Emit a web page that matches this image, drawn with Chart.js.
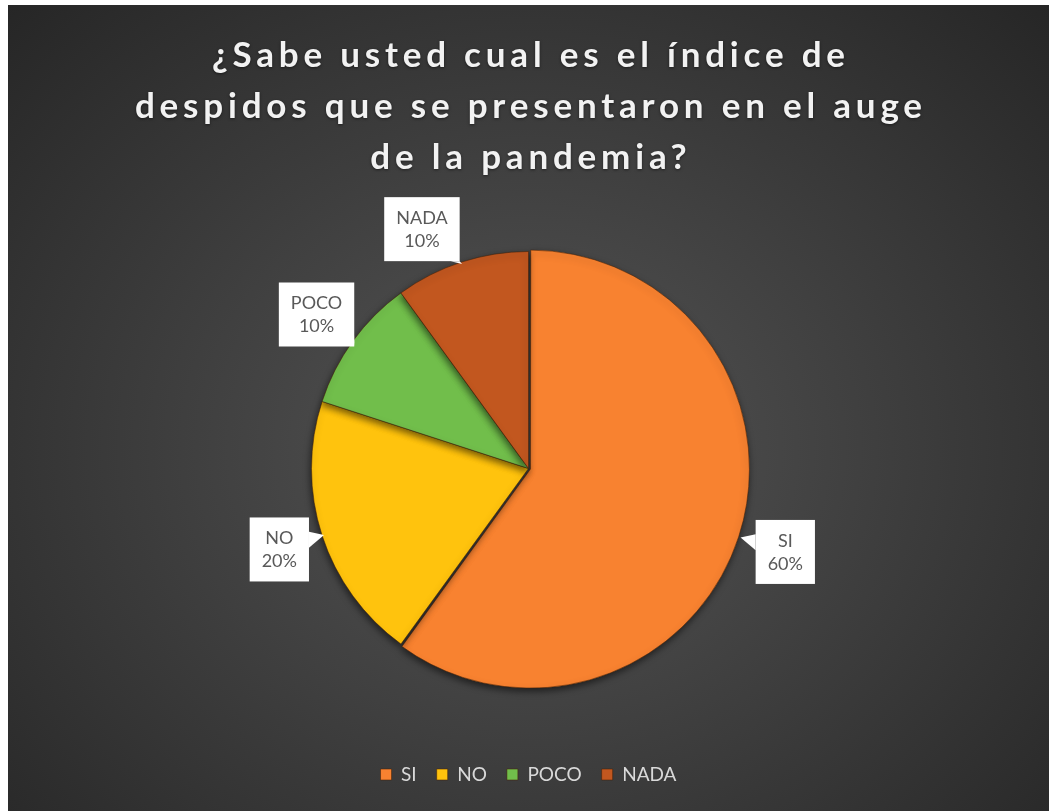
<!DOCTYPE html>
<html>
<head>
<meta charset="utf-8">
<script src="https://cdn.jsdelivr.net/npm/chart.js@4.4.0/dist/chart.umd.min.js"></script>
<style>
  html, body { margin: 0; padding: 0; background: #ffffff; }
  #wrap {
    position: absolute; left: 8px; top: 5px; width: 1041px; height: 806px;
    background: radial-gradient(ellipse at 50% 55%, #555555 0%, #404040 45%, #262626 100%);
  }
</style>
</head>
<body>
<div id="wrap"><canvas id="pie" width="1041" height="806"></canvas></div>
<script>
const categories = ["SI", "NO", "POCO", "NADA"];
const percentages = [60, 20, 10, 10];
const sliceColors = ["#F88230", "#FFC30D", "#71BE4B", "#C2571F"];
const titleLines = [
  "¿Sabe usted cual es el índice de",
  "despidos que se presentaron en el auge",
  "de la pandemia?"
];

// label callouts: white boxes with a pointer to the slice
const calloutShiftDeg = [0, 0, 0, -6];
const calloutPlugin = {
  id: "callouts",
  afterDatasetsDraw(chart) {
    const ctx = chart.ctx;
    const meta = chart.getDatasetMeta(0);
    ctx.save();
    ctx.shadowColor = "transparent";
    ctx.font = "18px Lato";
    ctx.textAlign = "center";
    ctx.textBaseline = "middle";
    meta.data.forEach((arc, i) => {
      const p = arc.getProps(["x", "y", "startAngle", "endAngle", "outerRadius"], true);
      const mid = (p.startAngle + p.endAngle) / 2;
      const off = arc.options.offset || 0;
      const cx = p.x + Math.cos(mid) * off;
      const cy = p.y + Math.sin(mid) * off;
      const tip = { x: cx + Math.cos(mid) * (p.outerRadius - 2), y: cy + Math.sin(mid) * (p.outerRadius - 2) };
      const a = mid + calloutShiftDeg[i] * Math.PI / 180;
      const bx = cx + Math.cos(a) * 262;
      const by = cy + Math.sin(a) * 262;
      const l1 = categories[i];
      const l2 = percentages[i] + "%";
      const tw = Math.max(ctx.measureText(l1).width, ctx.measureText(l2).width);
      const hw = tw / 2 + 12;
      const hh = 32;
      ctx.fillStyle = "#ffffff";
      ctx.fillRect(bx - hw, by - hh, hw * 2, hh * 2);
      // pointer
      const dx = tip.x - bx, dy = tip.y - by;
      const tx = hw / Math.abs(dx || 1e-6), ty = hh / Math.abs(dy || 1e-6);
      let b1, b2;
      if (tx < ty) {
        const ex = bx + dx * tx, ey = by + dy * tx;
        b1 = { x: ex, y: Math.max(by - hh, ey - 8) };
        b2 = { x: ex, y: Math.min(by + hh, ey + 8) };
      } else {
        const ex = bx + dx * ty, ey = by + dy * ty;
        b1 = { x: Math.max(bx - hw, ex - 8), y: ey };
        b2 = { x: Math.min(bx + hw, ex + 8), y: ey };
      }
      ctx.beginPath();
      ctx.moveTo(tip.x, tip.y);
      ctx.lineTo(b1.x, b1.y);
      ctx.lineTo(b2.x, b2.y);
      ctx.closePath();
      ctx.fill();
      ctx.fillStyle = "#595959";
      ctx.fillText(l1, bx, by - 11);
      ctx.fillText(l2, bx, by + 12);
    });
    ctx.restore();
  }
};

// soft shadow under the slices, spaced-out title text
const stylePlugin = {
  id: "styling",
  beforeDatasetsDraw(chart) {
    const ctx = chart.ctx;
    ctx.save();
    ctx.shadowColor = "rgba(0,0,0,0.55)";
    ctx.shadowBlur = 7;
    ctx.shadowOffsetX = -1;
    ctx.shadowOffsetY = 3;
  },
  afterDatasetsDraw(chart) {
    chart.ctx.restore();
  },
  afterDraw(chart) {
    const ctx = chart.ctx;
    const tb = chart.titleBlock;
    ctx.save();
    ctx.font = "bold 35px Lato";
    ctx.letterSpacing = "4.8px";
    ctx.textAlign = "center";
    ctx.textBaseline = "alphabetic";
    ctx.fillStyle = "#f2f2f2";
    ctx.shadowColor = "rgba(0,0,0,0.5)";
    ctx.shadowBlur = 3;
    ctx.shadowOffsetY = 1;
    const cx = tb.left + tb.width / 2 + 2.4;
    titleLines.forEach((line, i) => {
      ctx.fillText(line, cx, tb.top + 62 + 51 * i);
    });
    ctx.restore();
  }
};

new Chart(document.getElementById("pie"), {
  type: "pie",
  data: {
    labels: categories,
    datasets: [{
      data: percentages,
      backgroundColor: sliceColors,
      borderColor: "rgba(70,35,10,0.55)",
      borderWidth: 1,
      offset: [8, 0, 0, 0],
      radius: 217
    }]
  },
  options: {
    responsive: false,
    animation: false,
    layout: { padding: { bottom: 17 } },
    plugins: {
      title: {
        display: true,
        text: titleLines,
        color: "rgba(0,0,0,0)",
        font: { family: "Lato", size: 35, weight: "bold", lineHeight: "51px" },
        padding: { top: 23, bottom: 11 }
      },
      legend: {
        position: "bottom",
        labels: {
          color: "#d9d9d9",
          font: { family: "Lato", size: 19 },
          boxWidth: 11,
          boxHeight: 11,
          padding: 20
        }
      },
      tooltip: { enabled: false }
    }
  },
  plugins: [stylePlugin, calloutPlugin]
});
</script>
</body>
</html>
